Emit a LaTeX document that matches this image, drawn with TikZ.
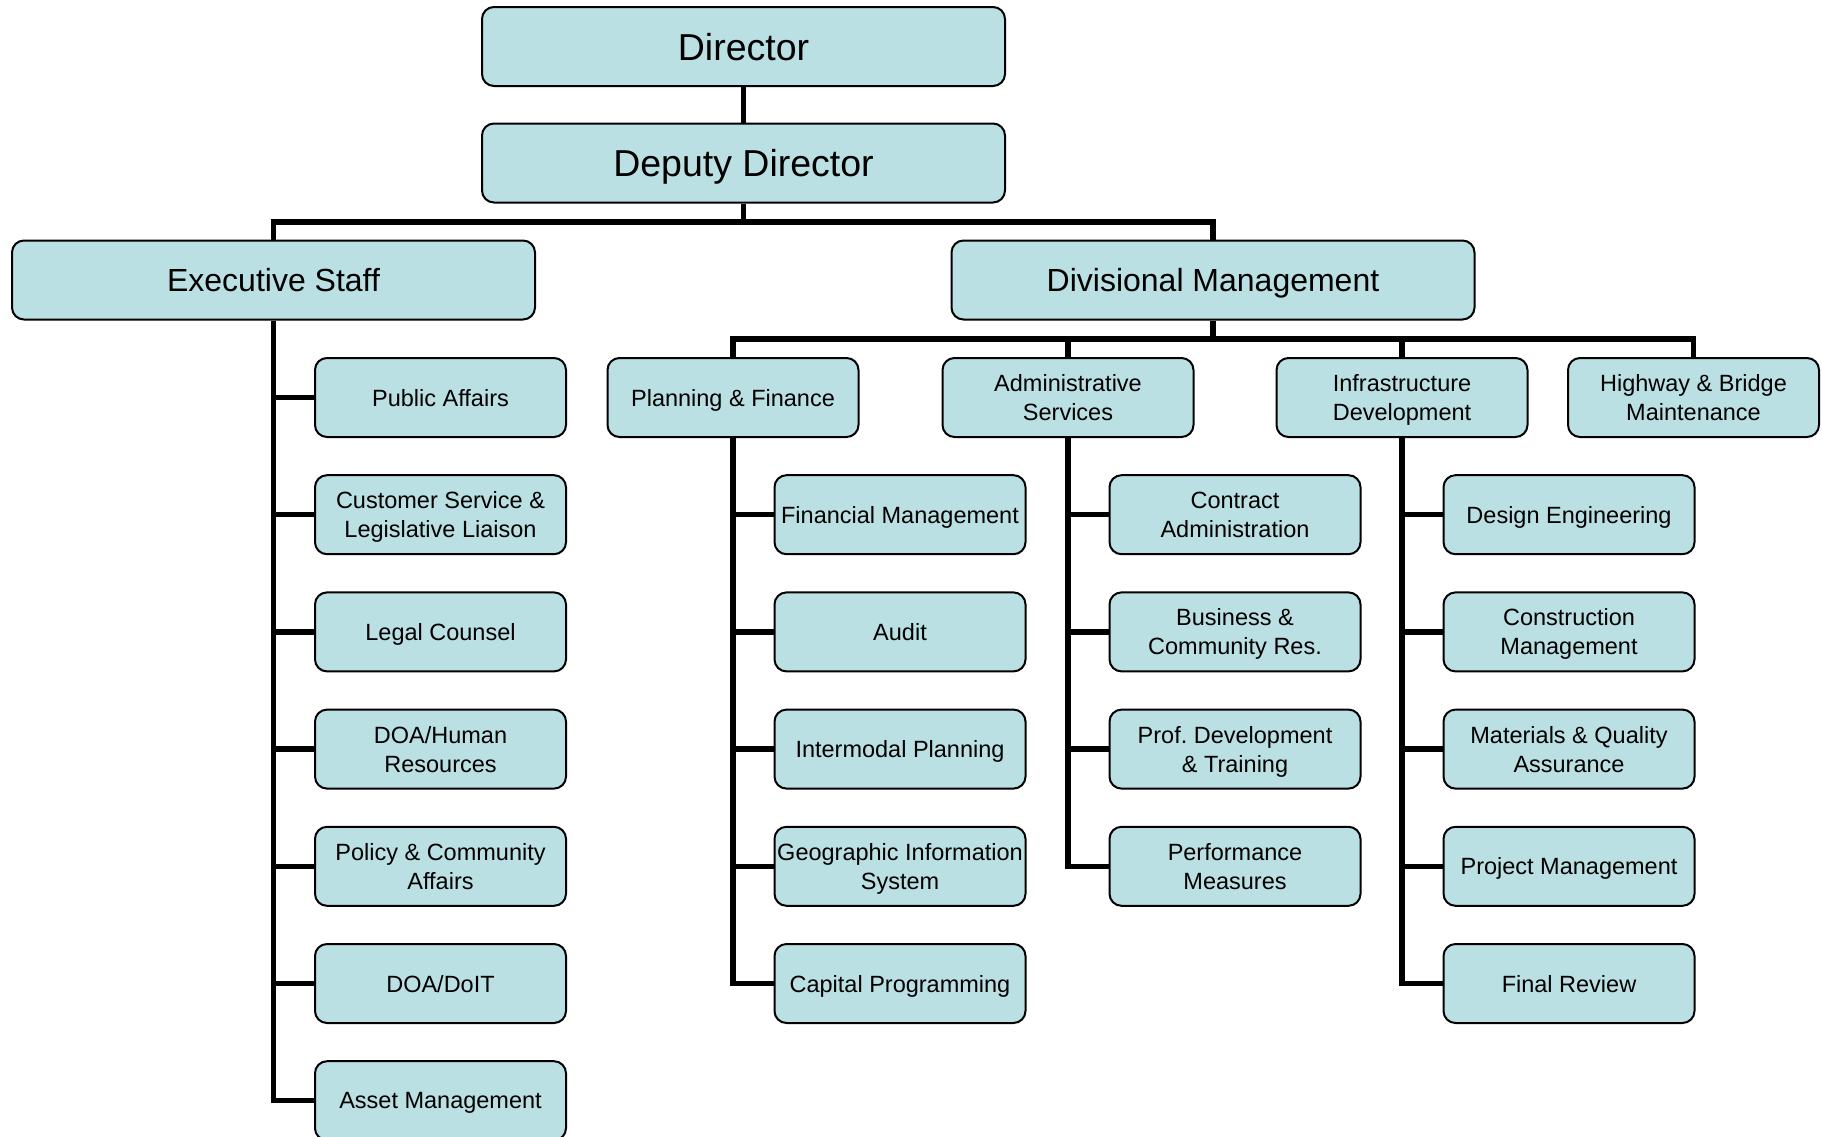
\documentclass[tikz,border=0pt]{standalone}
\usepackage{fontspec}
\setmainfont{Liberation Sans}
\usetikzlibrary{backgrounds}
\definecolor{boxfill}{RGB}{187,224,227}
\begin{document}
\frenchspacing
\begin{tikzpicture}[x=1pt,y=-1pt,
  box/.style={draw=black, line width=2pt, fill=boxfill, rounded corners=12pt, inner sep=0pt, align=center, text depth=0pt},
  bigbox/.style={box, minimum width=523pt, minimum height=79pt, font=\fontsize{37.5}{44}\selectfont},
  midbox/.style={box, minimum width=523pt, minimum height=79pt, font=\fontsize{32}{38}\selectfont, text depth=-2pt},
  smallbox/.style={box, minimum width=251pt, minimum height=79pt, font=\fontsize{23.5}{29}\selectfont, text depth=-4.6pt},
  twoline/.style={text depth=-1.6pt},
  conn/.style={draw=black, line width=5.5pt, line join=miter}]
\useasboundingbox (0,0) rectangle (1822,1136);
\clip (0,0) rectangle (1822,1136);
% top levels
\node[bigbox] (dir) at (743.5,46.5) {Director};
\node[bigbox] (dep) at (743.5,163) {Deputy Director};
\node[midbox] (exec) at (273.5,280) {Executive Staff};
\node[midbox] (div) at (1213,280) {Divisional Management};
\coordinate (b1) at (743.5,222);
\coordinate (b2) at (1213,339);
% level 3
\node[smallbox] (pf) at (733,397.5) {Planning \& Finance};
\node[smallbox,twoline] (adm) at (1068,397.5) {Administrative\\Services};
\node[smallbox,twoline] (inf) at (1402,397.5) {Infrastructure\\Development};
\node[smallbox,twoline] (hw) at (1693.5,397.5) {Highway \& Bridge\\Maintenance};
% executive staff children
\node[smallbox] (e1) at (440.5,397.5) {Public Affairs};
\node[smallbox,twoline] (e2) at (440.5,514.7) {Customer Service \&\\Legislative Liaison};
\node[smallbox] (e3) at (440.5,631.9) {Legal Counsel};
\node[smallbox,twoline] (e4) at (440.5,749.1) {DOA/Human\\Resources};
\node[smallbox,twoline] (e5) at (440.5,866.3) {Policy \& Community\\Affairs};
\node[smallbox] (e6) at (440.5,983.5) {DOA/DoIT};
\node[smallbox] (e7) at (440.5,1100.7) {Asset Management};
% planning children
\node[smallbox] (p1) at (900,514.7) {Financial Management};
\node[smallbox] (p2) at (900,631.9) {Audit};
\node[smallbox] (p3) at (900,749.1) {Intermodal Planning};
\node[smallbox,twoline] (p4) at (900,866.3) {Geographic Information\\System};
\node[smallbox] (p5) at (900,983.5) {Capital Programming};
% admin children
\node[smallbox,twoline] (a1) at (1235,514.7) {Contract\\Administration};
\node[smallbox,twoline] (a2) at (1235,631.9) {Business \&\\Community Res.};
\node[smallbox,twoline] (a3) at (1235,749.1) {Prof. Development\\\& Training};
\node[smallbox,twoline] (a4) at (1235,866.3) {Performance\\Measures};
% infrastructure children
\node[smallbox] (i1) at (1569,514.7) {Design Engineering};
\node[smallbox,twoline] (i2) at (1569,631.9) {Construction\\Management};
\node[smallbox,twoline] (i3) at (1569,749.1) {Materials \& Quality\\Assurance};
\node[smallbox] (i4) at (1569,866.3) {Project Management};
\node[smallbox] (i5) at (1569,983.5) {Final Review};
\begin{scope}[on background layer]
  \draw[conn] (dir.south) -- (dep.north);
  \draw[conn] (dep.south) -- (b1);
  \draw[conn] (exec.north) |- (b1) -| (div.north);
  \draw[conn] (div.south) -- (b2);
  \draw[conn] (pf.north) |- (b2) -| (hw.north);
  \draw[conn] (adm.north) -- (adm.north |- b2);
  \draw[conn] (inf.north) -- (inf.north |- b2);
  % executive stem
  \draw[conn] (exec.south) |- (e7.west);
  \foreach \n in {e1,e2,e3,e4,e5,e6}
    \draw[conn] (exec.south |- \n.west) -- (\n.west);
  % planning stem
  \draw[conn] (pf.south) |- (p5.west);
  \foreach \n in {p1,p2,p3,p4}
    \draw[conn] (pf.south |- \n.west) -- (\n.west);
  % admin stem
  \draw[conn] (adm.south) |- (a4.west);
  \foreach \n in {a1,a2,a3}
    \draw[conn] (adm.south |- \n.west) -- (\n.west);
  % infrastructure stem
  \draw[conn] (inf.south) |- (i5.west);
  \foreach \n in {i1,i2,i3,i4}
    \draw[conn] (inf.south |- \n.west) -- (\n.west);
\end{scope}
\end{tikzpicture}
\end{document}
